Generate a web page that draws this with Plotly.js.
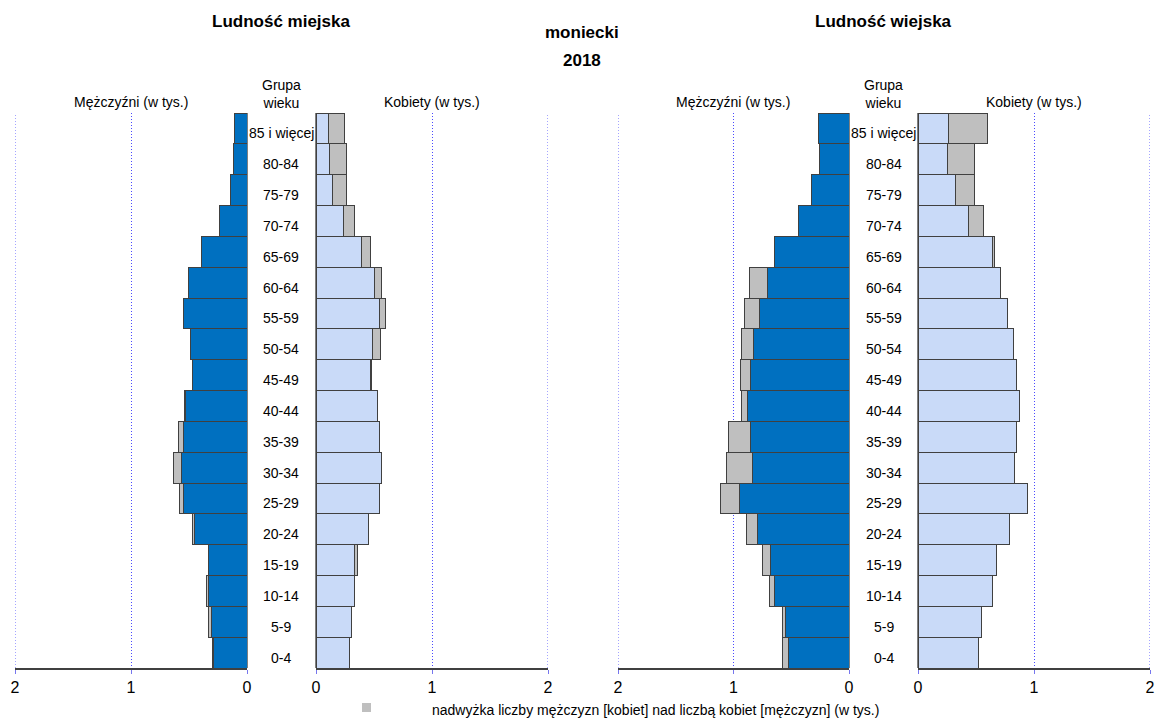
<!DOCTYPE html>
<html>
<head>
<meta charset="utf-8">
<script src="https://cdn.plot.ly/plotly-3.0.1.min.js"></script>
<style>html,body{margin:0;padding:0;background:#fff;}#chart{width:1155px;height:719px;}</style>
</head>
<body>
<div id="chart"></div>
<script>
// Age groups (bottom to top)
const ageGroups = ['0-4','5-9','10-14','15-19','20-24','25-29','30-34','35-39','40-44','45-49','50-54','55-59','60-64','65-69','70-74','75-79','80-84','85 i więcej'];
// Values in thousands
const urbanMen   = [0.298,0.333,0.345,0.335,0.468,0.585,0.635,0.590,0.535,0.468,0.488,0.550,0.508,0.388,0.235,0.140,0.120,0.105];
const urbanWomen = [0.285,0.310,0.328,0.355,0.450,0.550,0.567,0.550,0.527,0.478,0.560,0.600,0.563,0.470,0.335,0.260,0.260,0.245];
const ruralMen   = [0.572,0.575,0.690,0.750,0.888,1.116,1.064,1.040,0.934,0.943,0.934,0.909,0.862,0.642,0.435,0.322,0.258,0.265];
const ruralWomen = [0.525,0.550,0.642,0.680,0.790,0.946,0.832,0.850,0.875,0.850,0.823,0.772,0.708,0.660,0.565,0.485,0.488,0.600];
const tickValues = [0,1,2];
const tickLabels = ['0','1','2'];

const W = 1155, H = 719;
const FONT = 'Liberation Sans, Arial, sans-serif';
const MEN_COLOR = '#0070C0', WOMEN_COLOR = '#C9DAF8', EXCESS_COLOR = '#BFBFBF', EDGE = '#404040';
const GRID_COLOR = '#4A4AFF', GRID_DASH = '1px,2px';

function minArr(a,b){ return a.map((v,i)=>Math.min(v,b[i])); }
function excess(a,b){ return a.map((v,i)=> v>b[i] ? v-b[i] : null); }

function pair(men, women, xm, xw){
  const base = minArr(men, women);
  const mk = (x, vals, color) => ({
    type:'bar', orientation:'h', x: vals, y: ageGroups, xaxis: x, yaxis:'y',
    marker:{color: color, line:{color: EDGE, width:1}}, showlegend:false, hoverinfo:'x+y'
  });
  return [
    mk(xm, base, MEN_COLOR),
    mk(xm, excess(men, women), EXCESS_COLOR),
    mk(xw, base, WOMEN_COLOR),
    mk(xw, excess(women, men), EXCESS_COLOR)
  ];
}

const data = [].concat(pair(urbanMen, urbanWomen, 'x', 'x2'), pair(ruralMen, ruralWomen, 'x3', 'x4'));

function xa(d0, d1, reversed){
  return {
    domain:[d0/W, d1/W], range: reversed ? [2,0] : [0,2], anchor:'y',
    tickmode:'array', tickvals: tickValues, ticktext: tickLabels,
    showgrid:true, gridcolor:GRID_COLOR, griddash:GRID_DASH, gridwidth:1,
    zeroline:true, zerolinecolor:'#808080', zerolinewidth:2,
    showline:true, linecolor:EDGE, linewidth:1.5,
    ticks:'outside', ticklen:4, tickcolor:'#7777EE', tickwidth:1,
    tickfont:{family:FONT, size:16, color:'#000'}, fixedrange:true
  };
}

const yTop = 113, yBot = 668;
const layout = {
  width:W, height:H, margin:{l:0,r:0,t:0,b:0},
  paper_bgcolor:'#fff', plot_bgcolor:'rgba(0,0,0,0)',
  barmode:'stack', bargap:0,
  font:{family:FONT, color:'#000'},
  xaxis: xa(15, 247, true),
  xaxis2: xa(316, 548, false),
  xaxis3: xa(618, 849, true),
  xaxis4: xa(918, 1150, false),
  yaxis:{domain:[1-yBot/H, 1-yTop/H], type:'category', range:[-0.5, ageGroups.length-0.5],
         showticklabels:false, showgrid:false, zeroline:false, showline:false, ticks:'', fixedrange:true},
  annotations:[], shapes:[]
};

// gridlines at the outer edge value (2), which Plotly drops at the range end
['x','x2','x3','x4'].forEach(xr=>{
  const v = tickValues[tickValues.length-1];
  layout.shapes.push({type:'line', xref:xr, yref:'paper', x0:v, x1:v, y0:1-yBot/H, y1:1-yTop/H,
    line:{color:GRID_COLOR, width:1, dash:GRID_DASH}, layer:'below'});
});

function ann(text, px, py, size, bold, extra){
  layout.annotations.push(Object.assign({
    text: bold ? '<b>'+text+'</b>' : text, xref:'paper', yref:'paper',
    x: px/W, y: 1-py/H, xanchor:'center', yanchor:'middle', showarrow:false,
    font:{family:FONT, size:size, color:'#000'}
  }, extra||{}));
}

ann('Ludność miejska', 281, 21, 17, true);
ann('Ludność wiejska', 883, 21, 17, true);
ann('moniecki', 582, 32, 17, true);
ann('2018', 582, 60, 17, true);
[[131,281,432],[733,883.5,1034]].forEach(([m,c,w])=>{
  ann('Mężczyźni (w tys.)', m, 102, 14, false);
  ann('Kobiety (w tys.)', w, 102, 14, false);
  ann('Grupa<br>wieku', c, 94.5, 14, false);
  ageGroups.forEach(g=>{
    layout.annotations.push({text:g, xref:'paper', yref:'y', x:c/W, y:g, xanchor:'center', yanchor:'middle',
      yshift:-5, showarrow:false, font:{family:FONT, size:14, color:'#000'}});
  });
});
ann('nadwyżka liczby mężczyzn [kobiet] nad liczbą kobiet [mężczyzn] (w tys.)', 430, 710, 14, false, {xanchor:'left'});
layout.shapes.push({type:'rect', xref:'paper', yref:'paper', x0:362/W, x1:371/W, y0:1-712/H, y1:1-703/H,
  fillcolor:EXCESS_COLOR, line:{width:0}});

Plotly.newPlot('chart', data, layout, {displayModeBar:false, staticPlot:true});
</script>
</body>
</html>
